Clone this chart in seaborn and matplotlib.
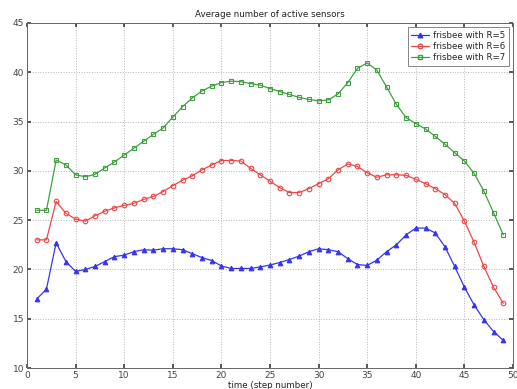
import numpy as np
import pandas as pd
import matplotlib
matplotlib.use("Agg")
import matplotlib.pyplot as plt
import seaborn as sns

steps = list(range(1, 50))

r5 = [17.0, 18.0, 22.7, 20.8, 19.8, 20.0, 20.3, 20.8, 21.3, 21.45,
      21.8, 22.0, 21.95, 22.1, 22.1, 22.0, 21.6, 21.2, 20.9, 20.35,
      20.1, 20.1, 20.1, 20.25, 20.45, 20.7, 21.0, 21.35, 21.8, 22.1,
      22.0, 21.8, 21.1, 20.5, 20.4, 20.95, 21.8, 22.5, 23.5, 24.2,
      24.2, 23.7, 22.3, 20.3, 18.2, 16.4, 14.9, 13.7, 12.8]

r6 = [23.0, 23.0, 26.9, 25.7, 25.1, 24.9, 25.45, 25.9, 26.25, 26.5,
      26.7, 27.1, 27.4, 27.9, 28.5, 29.05, 29.5, 30.1, 30.6, 31.05,
      31.05, 31.0, 30.25, 29.6, 28.95, 28.3, 27.8, 27.8, 28.2, 28.7,
      29.2, 30.1, 30.7, 30.45, 29.8, 29.35, 29.6, 29.6, 29.55, 29.15,
      28.7, 28.2, 27.6, 26.7, 24.9, 22.75, 20.3, 18.2, 16.55]

r7 = [26.0, 26.0, 31.1, 30.6, 29.6, 29.4, 29.65, 30.3, 30.9, 31.6,
      32.3, 33.0, 33.7, 34.35, 35.45, 36.5, 37.4, 38.1, 38.6, 38.95,
      39.1, 39.05, 38.85, 38.7, 38.35, 38.05, 37.75, 37.45, 37.25, 37.1,
      37.2, 37.8, 38.95, 40.4, 40.95, 40.2, 38.5, 36.75, 35.4, 34.8,
      34.25, 33.5, 32.7, 31.85, 31.0, 29.75, 27.95, 25.75, 23.5]

labels = ["frisbee with R=5", "frisbee with R=6", "frisbee with R=7"]
title = "Average number of active sensors"
x_label = "time (step number)"

df = pd.DataFrame({
    "step": steps * 3,
    "sensors": r5 + r6 + r7,
    "series": [labels[0]] * len(steps) + [labels[1]] * len(steps) + [labels[2]] * len(steps),
})

sns.set_theme(style="white")
plt.rcParams["font.family"] = ["DejaVu Sans"]

fig = plt.figure(figsize=(5.17, 3.89), dpi=100)
ax = fig.add_axes([27 / 517, 1 - 368 / 389, 486 / 517, 345 / 389])

colors = ["#3535ee", "#ee4646", "#40a040"]
markers = ["^", "o", "s"]
palette = dict(zip(labels, colors))

sns.lineplot(data=df, x="step", y="sensors", hue="series", style="series",
             palette=palette, markers=dict(zip(labels, markers)), dashes=False,
             linewidth=0.9, markersize=3.3, ax=ax, legend=False)

# marker faces: filled triangles, open circles and squares
for line, c, m in zip(ax.get_lines()[:3], colors, markers):
    line.set_markeredgecolor(c)
    line.set_markeredgewidth(0.8)
    if m == "^":
        line.set_markerfacecolor(c)
    else:
        line.set_markerfacecolor("none")

ax.set_xlim(0, 50)
ax.set_ylim(10, 45)
ax.set_xticks(range(0, 51, 5))
ax.set_yticks(range(10, 46, 5))
ax.grid(True, color="#b4b4b4", linestyle=":", linewidth=0.7)
ax.tick_params(direction="in", length=3, labelsize=6.5, colors="#444444",
               top=True, right=True, bottom=True, left=True, pad=2)
for sp in ax.spines.values():
    sp.set_color("#666666")
    sp.set_linewidth(0.7)

ax.set_title(title, fontsize=6.3, color="#222222", pad=4)
ax.set_xlabel(x_label, fontsize=6.3, color="#222222", labelpad=1)
ax.set_ylabel("")

handles = []
for c, m, lab in zip(colors, markers, labels):
    h, = ax.plot([], [], color=c, marker=m, markersize=3.3, linewidth=0.9,
                 markerfacecolor=c if m == "^" else "none", markeredgecolor=c)
    handles.append(h)
leg = ax.legend(handles, labels, loc="upper right", fontsize=6.2, frameon=True,
                fancybox=False, edgecolor="#666666", borderpad=0.4,
                handlelength=2.0, handletextpad=0.5, labelspacing=0.25,
                borderaxespad=0.5)
leg.get_frame().set_linewidth(0.7)

fig.savefig("out.png", dpi=100, facecolor="white")
